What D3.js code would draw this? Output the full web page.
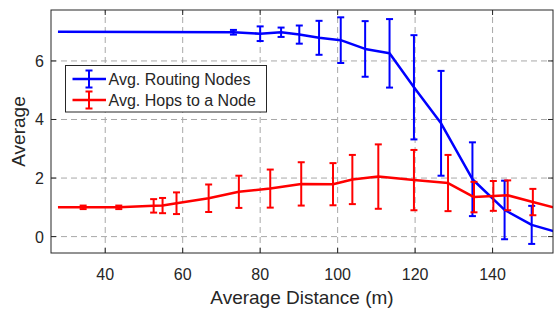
<!DOCTYPE html>
<html>
<head>
<meta charset="utf-8">
<script src="https://cdn.jsdelivr.net/npm/d3@7"></script>
<style>
  body { margin: 0; background: #fff; }
  svg { display: block; font-family: "Liberation Sans", Arial, Helvetica, sans-serif; }
  .grid line { stroke: #a8a8a8; stroke-width: 1; stroke-dasharray: 6,4; }
  .tick-label { fill: #262626; font-size: 16px; }
  .axis-label { fill: #262626; font-size: 19px; }
  .legend-text { fill: #262626; font-size: 16px; }
</style>
</head>
<body>
<script>
/*
* Average routing nodes / hops vs distance
*/

let width = 554;
let height = 310;
let margin = { left: 51, top: 10, right: 1, bottom: 57 };

// data
let routingX = [27.8, 73.1, 80.0, 85.4, 90.1, 95.2, 100.8, 107.1, 113.4, 119.7, 126.7, 134.8, 143.1, 150.1, 156.5];
let routingY = [7.0, 6.98, 6.93, 6.98, 6.9, 6.79, 6.71, 6.41, 6.26, 5.1, 3.87, 1.96, 0.91, 0.4, 0.16];
let routingErr = [0, 0.08, 0.25, 0.16, 0.31, 0.58, 0.78, 0.95, 1.17, 1.78, 1.79, 1.26, 1.0, 0.65, 0];

let hopsX = [27.8, 34.3, 43.5, 52.5, 54.8, 58.4, 66.7, 74.5, 82.6, 90.6, 98.8, 103.8, 110.5, 119.7, 128.5, 135.2, 140.2, 143.9, 150.4, 156.5];
let hopsY = [1.0, 1.0, 1.0, 1.05, 1.06, 1.14, 1.31, 1.53, 1.64, 1.8, 1.79, 1.95, 2.05, 1.93, 1.83, 1.35, 1.39, 1.41, 1.18, 0.97];
let hopsErr = [0, 0.06, 0.06, 0.23, 0.26, 0.37, 0.47, 0.55, 0.65, 0.74, 0.72, 0.84, 1.1, 1.03, 0.96, 0.52, 0.51, 0.51, 0.45, 0];

let xTicks = [40, 60, 80, 100, 120, 140];
let yTicks = [0, 2, 4, 6];

let seriesNames = ['Avg. Routing Nodes', 'Avg. Hops to a Node'];

let COLORS = {
  routing: '#0000ff',
  hops: '#ff0000',
  axis: '#262626'
};

let SERIES = [
  { name: seriesNames[0], color: COLORS.routing, x: routingX, y: routingY, err: routingErr },
  { name: seriesNames[1], color: COLORS.hops, x: hopsX, y: hopsY, err: hopsErr }
];

window.onload = function () {
  let svg = d3.select('body').append('svg')
    .attr('width', width)
    .attr('height', height);

  let x = d3.scaleLinear()
    .domain([26, 155.6])
    .range([margin.left, width - margin.right]);

  let y = d3.scaleLinear()
    .domain([-0.56, 7.74])
    .range([height - margin.bottom, margin.top]);

  let x0 = x.range()[0], x1 = x.range()[1];
  let y0 = y.range()[0], y1 = y.range()[1];

  svg.append('clipPath')
    .attr('id', 'plot-clip')
    .append('rect')
      .attr('x', x0)
      .attr('y', y1)
      .attr('width', x1 - x0)
      .attr('height', y0 - y1);

  // grid
  let grid = svg.append('g').attr('class', 'grid');
  grid.selectAll('.gx').data(xTicks).enter().append('line')
    .attr('x1', d => x(d)).attr('x2', d => x(d))
    .attr('y1', y0).attr('y2', y1);
  grid.selectAll('.gy').data(yTicks).enter().append('line')
    .attr('x1', x0).attr('x2', x1)
    .attr('y1', d => y(d)).attr('y2', d => y(d));

  // data
  let plot = svg.append('g').attr('clip-path', 'url(#plot-clip)');
  let line = d3.line()
    .x(d => x(d[0]))
    .y(d => y(d[1]));

  SERIES.forEach(function (s) {
    let pts = s.x.map((v, i) => [v, s.y[i], s.err[i]]);
    let g = plot.append('g');

    g.append('path')
      .attr('d', line(pts))
      .attr('fill', 'none')
      .attr('stroke', s.color)
      .attr('stroke-width', 2.5)
      .attr('stroke-linejoin', 'round');

    let bars = g.selectAll('.err').data(pts.filter(p => p[2] > 0)).enter().append('g')
      .attr('stroke', s.color)
      .attr('stroke-width', 2);
    bars.append('line')
      .attr('x1', d => x(d[0])).attr('x2', d => x(d[0]))
      .attr('y1', d => y(d[1] - d[2])).attr('y2', d => y(d[1] + d[2]));
    bars.append('line')
      .attr('x1', d => x(d[0]) - 3.5).attr('x2', d => x(d[0]) + 3.5)
      .attr('y1', d => y(d[1] + d[2])).attr('y2', d => y(d[1] + d[2]));
    bars.append('line')
      .attr('x1', d => x(d[0]) - 3.5).attr('x2', d => x(d[0]) + 3.5)
      .attr('y1', d => y(d[1] - d[2])).attr('y2', d => y(d[1] - d[2]));
  });

  // axes box and inward ticks
  let axes = svg.append('g')
    .attr('stroke', COLORS.axis)
    .attr('stroke-width', 1)
    .attr('fill', 'none');
  axes.append('rect')
    .attr('x', x0).attr('y', y1)
    .attr('width', x1 - x0).attr('height', y0 - y1);

  let tickLen = 5;
  xTicks.forEach(function (t) {
    axes.append('line').attr('x1', x(t)).attr('x2', x(t)).attr('y1', y0).attr('y2', y0 - tickLen);
    axes.append('line').attr('x1', x(t)).attr('x2', x(t)).attr('y1', y1).attr('y2', y1 + tickLen);
  });
  yTicks.forEach(function (t) {
    axes.append('line').attr('x1', x0).attr('x2', x0 + tickLen).attr('y1', y(t)).attr('y2', y(t));
    axes.append('line').attr('x1', x1).attr('x2', x1 - tickLen).attr('y1', y(t)).attr('y2', y(t));
  });

  // tick labels
  svg.selectAll('.xt').data(xTicks).enter().append('text')
    .attr('class', 'tick-label')
    .attr('x', d => x(d))
    .attr('y', y0 + 26.5)
    .attr('text-anchor', 'middle')
    .text(d => d);

  svg.selectAll('.yt').data(yTicks).enter().append('text')
    .attr('class', 'tick-label')
    .attr('x', x0 - 7)
    .attr('y', d => y(d) + 6)
    .attr('text-anchor', 'end')
    .text(d => d);

  // axis labels
  svg.append('text')
    .attr('class', 'axis-label')
    .attr('x', (x0 + x1) / 2)
    .attr('y', height - 6)
    .attr('text-anchor', 'middle')
    .text('Average Distance (m)');

  svg.append('text')
    .attr('class', 'axis-label')
    .attr('transform', 'translate(25,' + ((y0 + y1) / 2) + ') rotate(-90)')
    .attr('text-anchor', 'middle')
    .text('Average');

  // legend
  let legend = svg.append('g').attr('transform', 'translate(65.5,65.5)');
  legend.append('rect')
    .attr('width', 201)
    .attr('height', 46.5)
    .attr('fill', '#fff')
    .attr('stroke', COLORS.axis)
    .attr('stroke-width', 1);

  let item = legend.selectAll('.item').data(SERIES).enter().append('g')
    .attr('transform', (d, i) => 'translate(0,' + (13.5 + i * 21) + ')');

  item.append('line')
    .attr('x1', 7).attr('x2', 40.5).attr('y1', 0).attr('y2', 0)
    .attr('stroke', d => d.color).attr('stroke-width', 2.5);
  item.append('line')
    .attr('x1', 23.5).attr('x2', 23.5).attr('y1', -8.5).attr('y2', 8.5)
    .attr('stroke', d => d.color).attr('stroke-width', 2);
  item.append('line')
    .attr('x1', 20).attr('x2', 27).attr('y1', -8.5).attr('y2', -8.5)
    .attr('stroke', d => d.color).attr('stroke-width', 2);
  item.append('line')
    .attr('x1', 20).attr('x2', 27).attr('y1', 8.5).attr('y2', 8.5)
    .attr('stroke', d => d.color).attr('stroke-width', 2);
  item.append('text')
    .attr('class', 'legend-text')
    .attr('x', 43)
    .attr('y', 6)
    .text(d => d.name);
};
</script>
</body>
</html>
